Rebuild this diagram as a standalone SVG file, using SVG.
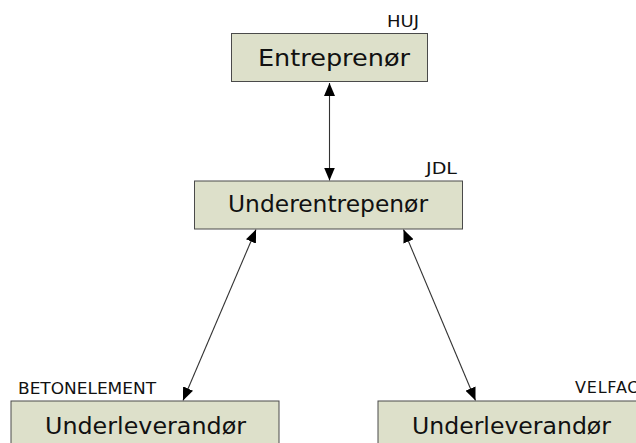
<svg xmlns="http://www.w3.org/2000/svg" width="636" height="443" viewBox="0 0 636 443">
<style>
.box{fill:#dde0ca;stroke:#4a4a4a;stroke-width:1}
.lbl{font-family:"DejaVu Sans",Verdana,sans-serif;font-size:22.5px;fill:#111}
.tag{font-family:"DejaVu Sans",Verdana,sans-serif;font-size:15px;fill:#111}
.con{stroke:#333;stroke-width:1.1;fill:none;marker-start:url(#ah);marker-end:url(#ah)}
</style>
<defs>
<marker id="ah" markerUnits="userSpaceOnUse" markerWidth="14" markerHeight="11" refX="13" refY="5.5" orient="auto-start-reverse">
<path d="M0,0 L13,5.5 L0,11 Z" fill="#000"/>
</marker>
</defs>
<rect width="636" height="443" fill="#fff"/>
<g id="connectors">
<line class="con" x1="329.5" y1="83" x2="329.5" y2="180.5"/>
<line class="con" x1="256" y1="229.5" x2="183" y2="400.5"/>
<line class="con" x1="403.5" y1="229.5" x2="475.5" y2="400.5"/>
</g>
<g id="entreprenor">
<rect class="box" x="231.5" y="33.5" width="196" height="48"/>
<text class="lbl" x="258" y="66" textLength="152" lengthAdjust="spacingAndGlyphs">Entreprenør</text>
<text class="tag" x="387" y="27" textLength="32" lengthAdjust="spacingAndGlyphs">HUJ</text>
</g>
<g id="underentreprenor">
<rect class="box" x="194.5" y="181" width="268" height="48"/>
<text class="lbl" x="228" y="212" textLength="200" lengthAdjust="spacingAndGlyphs">Underentrepenør</text>
<text class="tag" x="426" y="174" textLength="31" lengthAdjust="spacingAndGlyphs">JDL</text>
</g>
<g id="underleverandor-betonelement">
<rect class="box" x="11" y="401" width="268" height="50"/>
<text class="lbl" x="45" y="434" textLength="201" lengthAdjust="spacingAndGlyphs">Underleverandør</text>
<text class="tag" x="18" y="394" textLength="138" lengthAdjust="spacingAndGlyphs">BETONELEMENT</text>
</g>
<g id="underleverandor-velfac">
<rect class="box" x="378" y="401" width="268" height="50"/>
<text class="lbl" x="412" y="434" textLength="199" lengthAdjust="spacingAndGlyphs">Underleverandør</text>
<text class="tag" x="575" y="393" style="font-size:16px" letter-spacing="0.8">VELFAC</text>
</g>
</svg>
